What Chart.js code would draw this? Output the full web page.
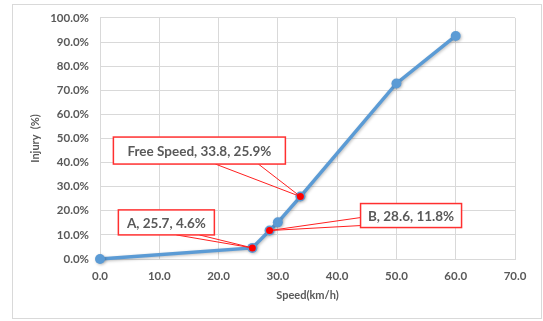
<!DOCTYPE html>
<html>
<head>
<meta charset="utf-8">
<script src="https://cdn.jsdelivr.net/npm/chart.js@4"></script>
<style>
  html, body { margin: 0; padding: 0; background: #fff; }
  #wrap { width: 543px; height: 321px; position: relative; }
</style>
</head>
<body>
<div id="wrap"><canvas id="chart"></canvas></div>
<script>
// speed (km/h) vs injury (%)
const speeds = [0, 25.7, 28.6, 30, 33.8, 50, 60];
const injury = [0, 4.6, 11.8, 15.2, 25.9, 72.8, 92.5];

// marked points
const markNames = ['A', 'B', 'Free Speed'];
const markSpeeds = [25.7, 28.6, 33.8];
const markInjury = [4.6, 11.8, 25.9];

const xTicks = [0, 10, 20, 30, 40, 50, 60, 70];
const yTicks = [0, 10, 20, 30, 40, 50, 60, 70, 80, 90, 100];

const gray = '#595959';
const gridColor = '#d9d9d9';

// callout boxes: offset of box from the point, and where the leader leaves the box
const callouts = [
    { dx: -86, dy: -25.5, w: 96, h: 25, base: [[10, 12.5], [33, 12.5]] },
    { dx: 141.5, dy: -15, w: 101, h: 24, base: [[-50.5, 2], [-50.5, 10]] },
    { dx: -101, dy: -46, w: 172, h: 27, base: [[16, 13.5], [59, 13.5]] }
];

const calloutPlugin = {
    id: 'callouts',
    beforeDraw(chart) {
        const ctx = chart.ctx;
        ctx.save();
        ctx.fillStyle = '#fff';
        ctx.fillRect(0, 0, chart.width, chart.height);
        ctx.strokeStyle = gridColor;
        ctx.lineWidth = 1;
        ctx.strokeRect(12.5, 4.5, 529, 314);
        ctx.restore();
    },
    beforeDatasetDraw(chart, args) {
        if (args.index === 0) {
            chart.ctx.save();
            chart.ctx.shadowColor = 'rgba(0,0,0,0.25)';
            chart.ctx.shadowBlur = 3;
            chart.ctx.shadowOffsetX = 1;
            chart.ctx.shadowOffsetY = 1;
        }
    },
    afterDatasetDraw(chart, args) {
        if (args.index === 0) chart.ctx.restore();
    },
    afterDatasetsDraw(chart) {
        const ctx = chart.ctx;
        const xs = chart.scales.x, ys = chart.scales.y;
        ctx.save();
        markNames.forEach((name, i) => {
            const px = xs.getPixelForValue(markSpeeds[i]);
            const py = ys.getPixelForValue(markInjury[i]);
            const c = callouts[i];
            const cx = px + c.dx, cy = py + c.dy;
            // leader
            ctx.strokeStyle = '#ff2020';
            ctx.lineWidth = 1;
            ctx.beginPath();
            ctx.moveTo(cx + c.base[0][0], cy + c.base[0][1]);
            ctx.lineTo(px, py);
            ctx.lineTo(cx + c.base[1][0], cy + c.base[1][1]);
            ctx.stroke();
            // box
            ctx.fillStyle = '#fff';
            ctx.fillRect(cx - c.w / 2, cy - c.h / 2, c.w, c.h);
            ctx.strokeStyle = '#ff3030';
            ctx.lineWidth = 1.5;
            ctx.strokeRect(cx - c.w / 2, cy - c.h / 2, c.w, c.h);
            // text
            ctx.fillStyle = gray;
            ctx.font = 'bold 13.5px Lato';
            ctx.textAlign = 'center';
            ctx.textBaseline = 'middle';
            ctx.fillText(`${name}, ${markSpeeds[i].toFixed(1)}, ${markInjury[i].toFixed(1)}%`, cx, cy + 1);
            // red dot on top
            ctx.fillStyle = '#ff0000';
            ctx.beginPath();
            ctx.arc(px, py, 3.5, 0, Math.PI * 2);
            ctx.fill();
        });
        ctx.restore();
    }
};

const ctx = document.getElementById('chart').getContext('2d');
new Chart(ctx, {
    type: 'scatter',
    data: {
        datasets: [{
            data: speeds.map((s, i) => ({ x: s, y: injury[i] })),
            showLine: true,
            clip: false,
            borderColor: '#5b9bd5',
            backgroundColor: '#5b9bd5',
            borderWidth: 3.5,
            pointRadius: 5,
            pointBorderWidth: 0
        }]
    },
    options: {
        responsive: true,
        maintainAspectRatio: false,
        animation: false,
        layout: { padding: { left: 12, right: 28, top: 14, bottom: 17 } },
        plugins: { legend: { display: false }, tooltip: { enabled: false } },
        scales: {
            x: {
                type: 'linear',
                min: 0, max: 70,
                afterBuildTicks: (scale) => { scale.ticks = xTicks.map(v => ({ value: v })); },
                afterFit: (scale) => { scale.height = 45; },
                grid: { color: gridColor, drawTicks: false },
                border: { color: gridColor },
                ticks: {
                    padding: 10,
                    color: gray,
                    font: { family: 'Lato', size: 11.5, weight: 'bold' },
                    callback: (v) => v.toFixed(1)
                },
                title: {
                    display: true,
                    text: 'Speed(km/h)',
                    color: gray,
                    font: { family: 'Lato', size: 11, weight: 'bold' },
                    padding: { top: 2, bottom: 2 }
                }
            },
            y: {
                min: 0, max: 100,
                afterBuildTicks: (scale) => { scale.ticks = yTicks.map(v => ({ value: v })); },
                afterFit: (scale) => { scale.width = 88; },
                grid: { color: gridColor, drawTicks: false },
                border: { color: gridColor },
                ticks: {
                    padding: 11,
                    color: gray,
                    font: { family: 'Lato', size: 11.5, weight: 'bold' },
                    callback: (v) => v.toFixed(1) + '%'
                },
                title: {
                    display: true,
                    text: 'Injury  (%)',
                    color: gray,
                    font: { family: 'Lato', size: 11, weight: 'bold' },
                    padding: { top: 17, bottom: 0 }
                }
            }
        }
    },
    plugins: [calloutPlugin]
});
</script>
</body>
</html>
